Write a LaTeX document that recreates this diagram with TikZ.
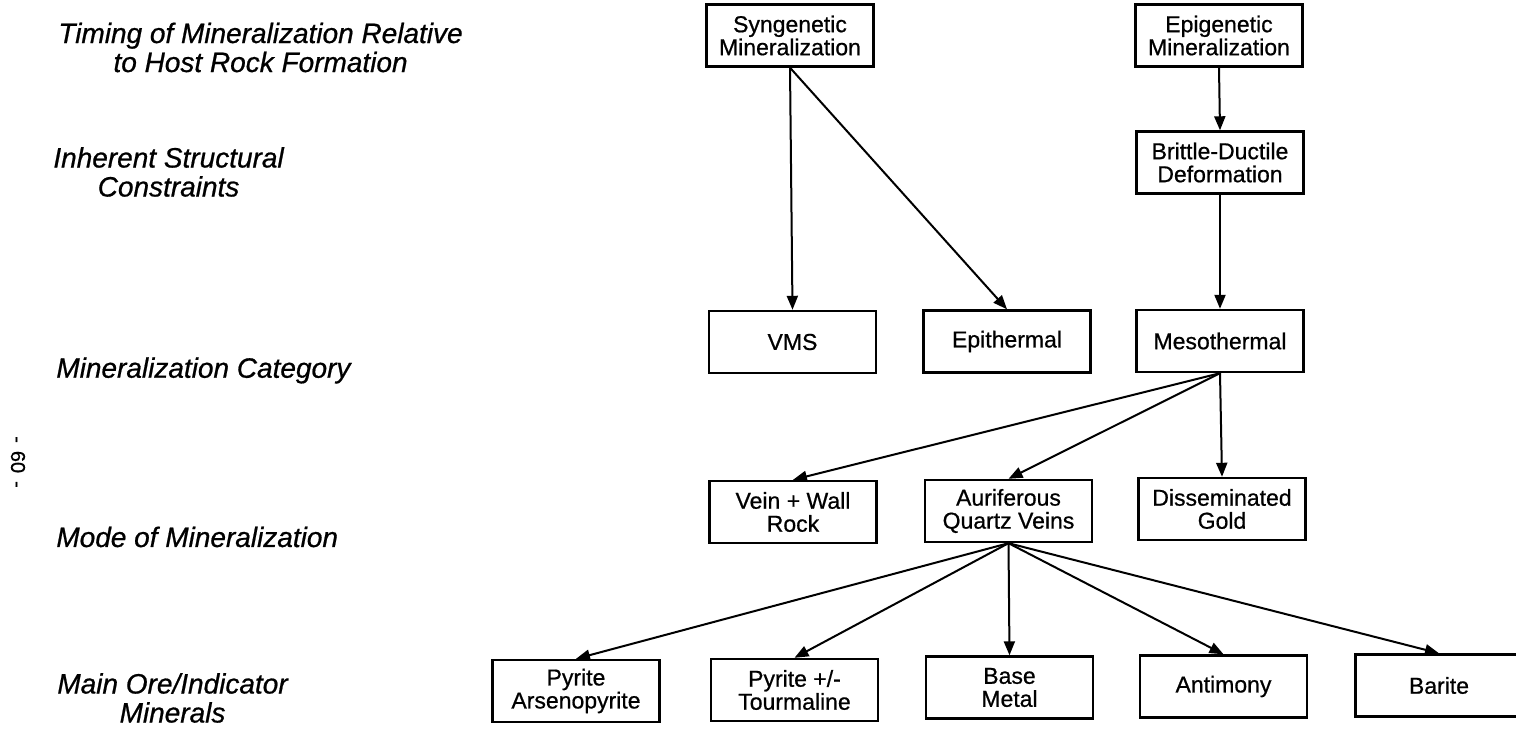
\documentclass[tikz,border=0pt]{standalone}
\usepackage{fontspec}
\setmainfont{Liberation Sans}[FakeBold=0.7]
\usetikzlibrary{arrows.meta}

\tikzset{
    mbox/.style={draw, line width=1.2pt, minimum width=83.5pt, minimum height=31pt,
          inner sep=2pt, align=center, font=\fontsize{11.5}{11.5}\selectfont},
    rowlabel/.style={anchor=west, inner sep=0pt, align=center,
          font=\fontsize{14}{14.5}\selectfont\itshape},
    flow/.style={-{Triangle[length=7pt, width=5.5pt]}, line width=1pt}
}

\begin{document}
\begin{tikzpicture}[x=0.5pt, y=-0.5pt]
    \useasboundingbox (0,0) rectangle (1516,731);

    \node[rowlabel] (timing) at (58,47.5) {Timing of Mineralization Relative\\to Host Rock Formation};
    \node[rowlabel] (constraints) at (53,172) {Inherent Structural\\Constraints};
    \node[rowlabel] (category) at (56,370.5) {Mineralization Category};
    \node[rowlabel] (mode) at (56,537) {Mode of Mineralization};
    \node[rowlabel] (minerals) at (57,698) {Main Ore/Indicator\\Minerals};

    \node[rotate=-90, inner sep=0pt, font=\fontsize{10}{10}\selectfont] (pagenum) at (18,462) {-\hspace{4pt}60\hspace{4pt}-};

    \node[mbox] (syngenetic) at (790,35.5) {Syngenetic\\Mineralization};
    \node[mbox] (epigenetic) at (1219,35.5) {Epigenetic\\Mineralization};
    \node[mbox] (brittle) at (1220,162.5) {Brittle-Ductile\\Deformation};

    \node[mbox] (vms) at (792.5,342) {VMS};
    \node[mbox] (epithermal) at (1007,341.5) {Epithermal};
    \node[mbox] (mesothermal) at (1220,341) {Mesothermal};

    \node[mbox] (vein) at (793,512) {Vein + Wall\\Rock};
    \node[mbox] (auriferous) at (1008.5,511) {Auriferous\\Quartz Veins};
    \node[mbox] (disseminated) at (1222,509) {Disseminated\\Gold};

    \node[mbox] (arsenopyrite) at (576,691) {Pyrite\\Arsenopyrite};
    \node[mbox] (tourmaline) at (794.5,690) {Pyrite +/-\\Tourmaline};
    \node[mbox] (basemetal) at (1009.5,687.5) {Base\\Metal};
    \node[mbox] (antimony) at (1223.5,686.5) {Antimony};
    \node[mbox] (barite) at (1439,685.5) {Barite};

    \draw[flow] (syngenetic.south) -- (vms.north);
    \draw[flow] (syngenetic.south) -- (epithermal.north);
    \draw[flow] (epigenetic.south) -- (brittle.north);
    \draw[flow] (brittle.south) -- (mesothermal.north);

    \draw[flow] (mesothermal.south) -- (vein.north);
    \draw[flow] (mesothermal.south) -- (auriferous.north);
    \draw[flow] (mesothermal.south) -- (disseminated.north);

    \draw[flow] (auriferous.south) -- (arsenopyrite.north);
    \draw[flow] (auriferous.south) -- (tourmaline.north);
    \draw[flow] (auriferous.south) -- (basemetal.north);
    \draw[flow] (auriferous.south) -- (antimony.north);
    \draw[flow] (auriferous.south) -- (barite.north);
\end{tikzpicture}
\end{document}
